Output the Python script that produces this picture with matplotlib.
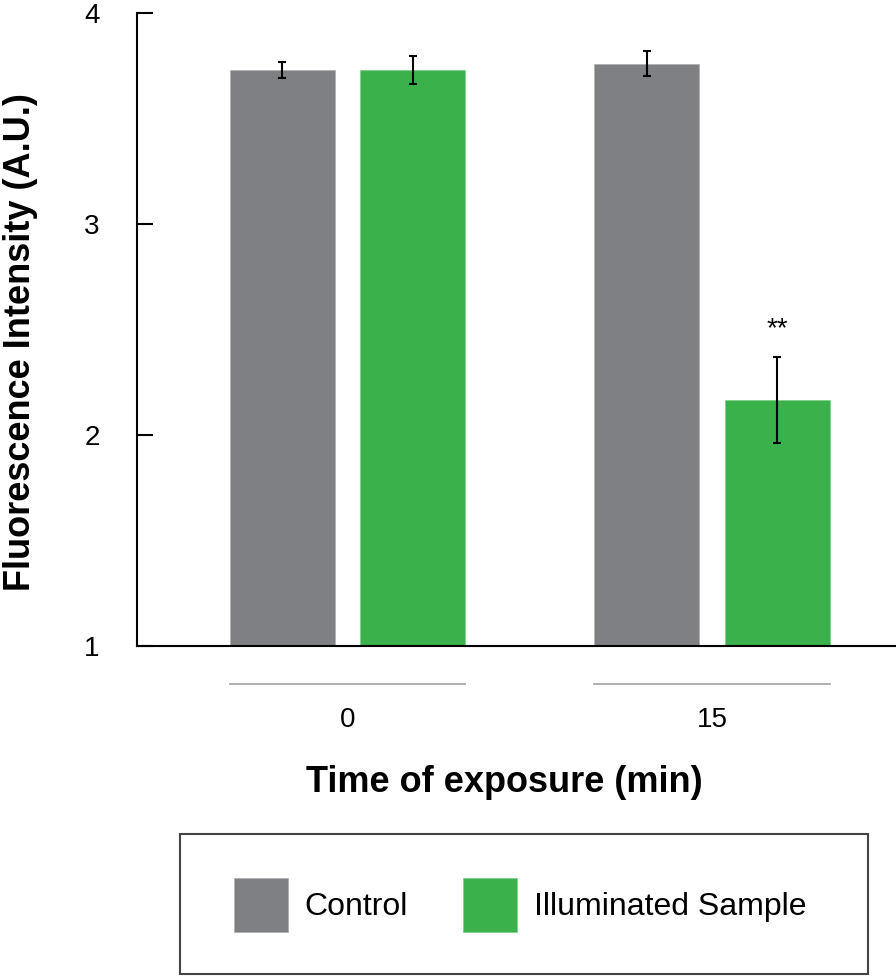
import numpy as np
import matplotlib
matplotlib.use("Agg")
import matplotlib.pyplot as plt
from matplotlib.patches import Rectangle

plt.rcParams['font.family'] = ['Liberation Sans', 'DejaVu Sans']

# data
times = ['0', '15']
control = [3.73, 3.76]
control_err = [0.04, 0.06]
illuminated = [3.73, 2.165]
illuminated_err = [0.065, 0.205]
series_names = ['Control', 'Illuminated Sample']
stars = ['', '**']

gray = '#7f8084'
green = '#3ab14a'

fig = plt.figure(figsize=(8.96, 9.77), dpi=100)
ax = fig.add_axes([137/896, 1 - 646/977, 759/896, 633/977])

x = np.arange(len(times))
off = 0.179
w = 0.288
err_kw = dict(ecolor='black', elinewidth=1.5, capsize=3.2, capthick=1.5)
b1 = ax.bar(x - off, control, w, yerr=control_err, color=gray, edgecolor='#b0b0b2',
            linewidth=0.6, error_kw=err_kw, label=series_names[0])
b2 = ax.bar(x + off, illuminated, w, yerr=illuminated_err, color=green, edgecolor='#7fd08a',
            linewidth=0.6, error_kw=err_kw, label=series_names[1])

for i, s in enumerate(stars):
    if s:
        ax.text(x[i] + off, illuminated[i] + illuminated_err[i] + 0.13, s,
                ha='center', va='center', fontsize=20)

ax.set_xlim(-0.5775, 1.505)
ax.set_ylim(1, 4)
ax.set_yticks([1, 2, 3, 4])
ax.tick_params(axis='y', direction='in', length=11.5, width=1.5, labelsize=20, pad=27)
ax.set_xticks(x)
ax.set_xticklabels(times)
ax.tick_params(axis='x', length=0, labelsize=20, pad=44)

for sp in ['top', 'right']:
    ax.spines[sp].set_visible(False)
ax.spines['left'].set_linewidth(1.5)
ax.spines['bottom'].set_linewidth(1.5)

# grey group lines under the axis
trans = ax.get_xaxis_transform()
for xi in x:
    ax.plot([xi - off - w/2, xi + off + w/2], [-0.060, -0.060], color='#a8a8a8',
            lw=1.3, transform=trans, clip_on=False)

fig.text(21/896, 1 - 342/977, 'Fluorescence Intensity (A.U.)', rotation=90,
         ha='center', va='center', fontsize=26, fontweight='bold')
fig.text(504/896, 1 - 783/977, 'Time of exposure (min)', ha='center', va='center',
         fontsize=26, fontweight='bold')

fig.legend(handles=[b1, b2], loc='center', bbox_to_anchor=(520/896, 1 - 905/977),
           ncol=2, frameon=False, fontsize=23, handlelength=1.69, handleheight=2.2,
           handletextpad=0.53, columnspacing=1.72)
fig.patches.append(Rectangle((180/896, 1 - 974/977), 688/896, 140/977,
                             transform=fig.transFigure, fill=False,
                             edgecolor='#444444', lw=1.5))

fig.savefig('out.png', dpi=100)
